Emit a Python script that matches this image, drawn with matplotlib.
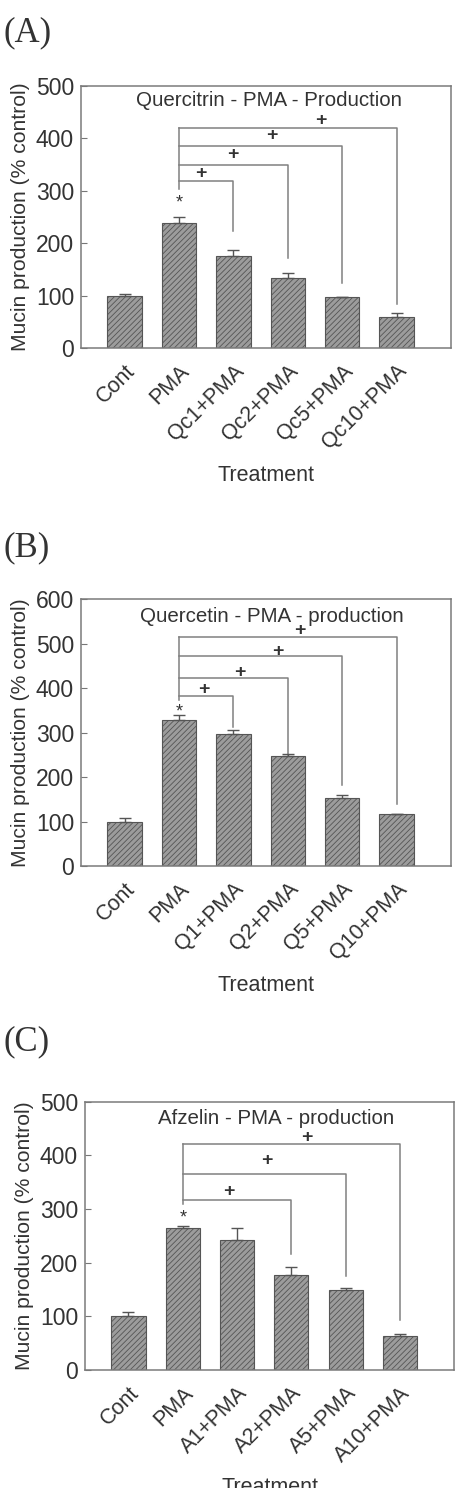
import matplotlib
matplotlib.use('Agg')
import matplotlib.pyplot as plt
import numpy as np

plt.rcParams['font.family'] = ['Liberation Sans', 'DejaVu Sans']
plt.rcParams['hatch.color'] = '#4a4a4a'
plt.rcParams['hatch.linewidth'] = 0.6

# Panel A: quercitrin
A_LABELS = ['Cont', 'PMA', 'Qc1+PMA', 'Qc2+PMA', 'Qc5+PMA', 'Qc10+PMA']
A_VALUES = [100, 238, 176, 133, 97, 60]
A_ERRORS = [3, 13, 11, 11, 1, 7]
A_TARGETS = [2, 3, 4, 5]
A_LEVELS = [318, 350, 385, 420]
A_DROPS = [223, 172, 124, 84]
A_PLUS_X = [1.40, 1.99, 2.71, 3.61]
A_PLUS_Y = [333, 370, 405, 435]
A_STAR_Y = 276

# Panel B: quercetin
B_LABELS = ['Cont', 'PMA', 'Q1+PMA', 'Q2+PMA', 'Q5+PMA', 'Q10+PMA']
B_VALUES = [100, 328, 297, 247, 152, 116]
B_ERRORS = [7, 12, 10, 6, 8, 1]
B_TARGETS = [2, 3, 4, 5]
B_LEVELS = [382, 424, 472, 516]
B_DROPS = [313, 250, 182, 140]
B_PLUS_X = [1.46, 2.11, 2.82, 3.22]
B_PLUS_Y = [398, 436, 482, 529]
B_STAR_Y = 347

# Panel C: afzelin
C_LABELS = ['Cont', 'PMA', 'A1+PMA', 'A2+PMA', 'A5+PMA', 'A10+PMA']
C_VALUES = [100, 265, 243, 177, 150, 64]
C_ERRORS = [8, 3, 22, 15, 3, 4]
C_TARGETS = [3, 4, 5]
C_LEVELS = [317, 366, 421]
C_DROPS = [216, 175, 93]
C_PLUS_X = [1.85, 2.55, 3.29]
C_PLUS_Y = [332, 391, 434]
C_STAR_Y = 283

PANELS = [
    ('(A)', 'Quercitrin - PMA - Production', 500, 473, 2.65,
     A_LABELS, A_VALUES, A_ERRORS, A_TARGETS, A_LEVELS, A_DROPS, A_PLUS_X, A_PLUS_Y, A_STAR_Y,
     [0.1769, 0.7661, 0.8079, 0.1761], 0.978),
    ('(B)', 'Quercetin - PMA - production', 600, 562, 2.70,
     B_LABELS, B_VALUES, B_ERRORS, B_TARGETS, B_LEVELS, B_DROPS, B_PLUS_X, B_PLUS_Y, B_STAR_Y,
     [0.1769, 0.4180, 0.8079, 0.1792], 0.632),
    ('(C)', 'Afzelin - PMA - production', 500, 468, 2.72,
     C_LABELS, C_VALUES, C_ERRORS, C_TARGETS, C_LEVELS, C_DROPS, C_PLUS_X, C_PLUS_Y, C_STAR_Y,
     [0.1856, 0.0793, 0.8063, 0.1803], 0.300),
]

fig = plt.figure(figsize=(4.58, 14.88), dpi=100)

for (tag, title, ymax, title_y, title_x, labels, values, errors, targets, levels,
     drops, plus_x, plus_y, star_y, rect, tag_y) in PANELS:
    ax = fig.add_axes(rect)
    x = np.arange(len(labels))
    ax.bar(x, values, width=0.63, color='#9c9c9c', edgecolor='#555555',
           linewidth=0.8, hatch='//////', zorder=2)
    ax.errorbar(x, values, yerr=[np.zeros(len(errors)), errors], fmt='none',
                ecolor='#555555', elinewidth=1, capsize=4, capthick=1, zorder=3)

    # significance brackets from PMA
    lc = '#808080'
    ax.plot([1, 1], [star_y + 27, levels[-1]], color=lc, lw=1.1)
    for t, lev, d in zip(targets, levels, drops):
        ax.plot([1, t, t], [lev, lev, d], color=lc, lw=1.1)
    for px, py in zip(plus_x, plus_y):
        ax.text(px, py, '+', ha='center', va='center', fontsize=14,
                fontweight='bold', color='#333333')
    ax.text(1, star_y, '*', ha='center', va='center', fontsize=13, color='#333333')

    ax.text(title_x, title_y, title, ha='center', va='center', fontsize=14.8,
            color='#333333')

    ax.set_xlim(-0.8, 6.0)
    ax.set_ylim(0, ymax)
    ax.set_yticks(np.arange(0, ymax + 1, 100))
    ax.set_xticks(x)
    ax.set_xticklabels(labels, rotation=45, ha='right', va='top',
                       rotation_mode='anchor', fontsize=15.5, color='#333333')
    ax.tick_params(axis='x', length=0, pad=9)
    ax.tick_params(axis='y', direction='in', length=4, labelsize=16.5,
                   labelcolor='#333333', color='#777777', pad=5)
    for s in ax.spines.values():
        s.set_color('#7a7a7a')
        s.set_linewidth(1.1)
    ax.set_ylabel('Mucin production (% control)', fontsize=15.2, color='#333333',
                  labelpad=4)
    ax.set_xlabel('Treatment', fontsize=15.5, color='#333333', labelpad=8)

    fig.text(0.008, tag_y, tag, fontsize=25, family=['Liberation Serif', 'DejaVu Serif'],
             va='center', ha='left', color='#333333')

fig.savefig('out.png', dpi=100)
